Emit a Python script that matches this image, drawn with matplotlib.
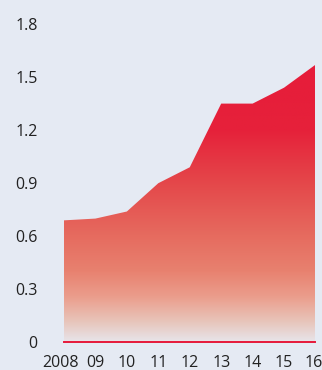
import numpy as np
import matplotlib.pyplot as plt
import matplotlib.transforms as mtransforms
from matplotlib.colors import LinearSegmentedColormap
from matplotlib.patches import Polygon

years = ["2008", "09", "10", "11", "12", "13", "14", "15", "16"]
values = [0.69, 0.70, 0.74, 0.90, 0.99, 1.35, 1.35, 1.44, 1.57]
yticks = [0, 0.3, 0.6, 0.9, 1.2, 1.5, 1.8]
ytick_labels = ["0", "0.3", "0.6", "0.9", "1.2", "1.5", "1.8"]

bg = "#e5eaf3"
red = "#e6193a"

plt.rcParams["font.family"] = ["Open Sans", "DejaVu Sans"]

fig = plt.figure(figsize=(3.22, 3.70), dpi=100)
fig.patch.set_facecolor(bg)
ax = fig.add_axes([64 / 322, 27.6 / 370, 251.5 / 322, 318.4 / 370])
ax.set_facecolor(bg)

x = np.arange(len(years))

# vertical gradient, clipped to the area under the series
stops = [(0.0, "#e7e4e9"), (0.12 / 1.8, "#e8c3b8"), (0.25 / 1.8, "#eb9e8d"),
         (0.4 / 1.8, "#e8816f"), (0.6 / 1.8, "#e66b5f"), (0.9 / 1.8, "#e4474a"),
         (1.2 / 1.8, "#e6213a"), (1.0, red)]
cmap = LinearSegmentedColormap.from_list("grad", stops)
grad = np.linspace(0, 1, 256).reshape(-1, 1)
im = ax.imshow(grad, cmap=cmap, aspect="auto", origin="lower",
               extent=[x[0], x[-1], 0, 1.8], zorder=1)
verts = [(x[0], 0)] + list(zip(x, values)) + [(x[-1], 0)]
poly = Polygon(verts, closed=True, facecolor="none", edgecolor="none")
ax.add_patch(poly)
im.set_clip_path(poly)

ax.plot([x[0], x[-1]], [0, 0], color=red, lw=1.4, clip_on=False, zorder=3)

ax.set_xlim(x[0], x[-1])
ax.set_ylim(0, 1.8)
ax.set_xticks(x)
ax.set_xticklabels(years)
ax.set_yticks(yticks)
ax.set_yticklabels(ytick_labels)
ax.tick_params(axis="both", length=0, labelsize=11.5, colors="#222222")
ax.tick_params(axis="y", pad=19)
ax.tick_params(axis="x", pad=9)
for s in ax.spines.values():
    s.set_visible(False)

# nudge the outer year labels slightly inward, as in the original
xl = ax.get_xticklabels()
xl[0].set_transform(xl[0].get_transform() + mtransforms.ScaledTranslation(-3 / 100, 0, fig.dpi_scale_trans))
xl[-1].set_transform(xl[-1].get_transform() + mtransforms.ScaledTranslation(-2 / 100, 0, fig.dpi_scale_trans))

fig.savefig("out.png", dpi=100, facecolor=bg)
